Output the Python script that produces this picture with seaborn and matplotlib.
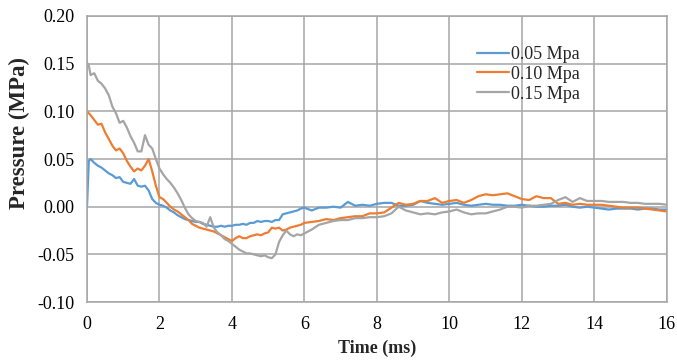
import matplotlib
matplotlib.use("Agg")
import matplotlib.pyplot as plt
import seaborn as sns
import pandas as pd

# --- data ---
TIME = [0, 0.05,
        0.1, 0.2, 0.3, 0.4, 0.5, 0.6, 0.7, 0.8, 0.9, 1.0,
        1.1, 1.2, 1.3, 1.4, 1.5, 1.6, 1.7, 1.8, 1.9, 2.0,
        2.1, 2.2, 2.3, 2.4, 2.5, 2.6, 2.7, 2.8, 2.9, 3.0,
        3.1, 3.2, 3.3, 3.4, 3.5, 3.6, 3.7, 3.8, 3.9, 4.0,
        4.1, 4.2, 4.3, 4.4, 4.5, 4.6, 4.7, 4.8, 4.9, 5.0,
        5.1, 5.2, 5.3, 5.4, 5.5, 5.6, 5.7, 5.8, 5.9, 6.0,
        6.2, 6.4, 6.6, 6.8, 7.0, 7.2, 7.4, 7.6, 7.8, 8.0,
        8.2, 8.4, 8.6, 8.8, 9.0, 9.2, 9.4, 9.6, 9.8, 10.0,
        10.2, 10.4, 10.6, 10.8, 11.0, 11.2, 11.4, 11.6, 11.8, 12.0,
        12.2, 12.4, 12.6, 12.8, 13.0, 13.2, 13.4, 13.6, 13.8, 14.0,
        14.2, 14.4, 14.6, 14.8, 15.0, 15.2, 15.4, 15.6, 15.8, 16.0]

P_005 = [0.000, 0.048,
         0.050, 0.046, 0.043, 0.041, 0.038, 0.035, 0.033, 0.030, 0.031, 0.026,
         0.025, 0.024, 0.029, 0.022, 0.021, 0.022, 0.017, 0.008, 0.004, 0.002,
         0.001, -0.001, -0.004, -0.006, -0.009, -0.011, -0.013, -0.014, -0.015, -0.016,
         -0.016, -0.018, -0.019, -0.020, -0.021, -0.021, -0.020, -0.021, -0.020, -0.020,
         -0.019, -0.019, -0.018, -0.019, -0.017, -0.017, -0.015, -0.016, -0.015, -0.015,
         -0.016, -0.014, -0.014, -0.008, -0.007, -0.006, -0.005, -0.004, -0.002, -0.001,
         -0.004, -0.001, -0.001, 0.000, -0.001, 0.005, 0.001, 0.002, 0.001, 0.003,
         0.004, 0.004, 0.001, 0.001, 0.002, 0.006, 0.004, 0.003, 0.002, 0.003,
         0.004, 0.002, 0.001, 0.002, 0.003, 0.002, 0.002, 0.001, 0.001, 0.002,
         0.001, 0.000, 0.000, 0.001, 0.001, 0.002, 0.000, -0.001, 0.000, -0.001,
         -0.002, -0.003, -0.002, -0.002, -0.002, -0.003, -0.002, -0.002, -0.003, -0.003]

P_010 = [0.100, 0.098,
         0.096, 0.091, 0.086, 0.087, 0.078, 0.071, 0.064, 0.059, 0.061, 0.056,
         0.048, 0.042, 0.037, 0.040, 0.038, 0.043, 0.050, 0.037, 0.022, 0.010,
         0.008, 0.004, 0.000, -0.003, -0.005, -0.008, -0.011, -0.014, -0.018, -0.020,
         -0.022, -0.023, -0.024, -0.025, -0.026, -0.028, -0.030, -0.032, -0.034, -0.036,
         -0.033, -0.031, -0.033, -0.033, -0.031, -0.030, -0.029, -0.030, -0.028, -0.027,
         -0.022, -0.023, -0.022, -0.025, -0.024, -0.022, -0.021, -0.020, -0.019, -0.017,
         -0.016, -0.015, -0.013, -0.014, -0.012, -0.011, -0.010, -0.010, -0.007, -0.007,
         -0.006, -0.001, 0.004, 0.002, 0.003, 0.006, 0.006, 0.009, 0.004, 0.006,
         0.007, 0.004, 0.007, 0.011, 0.013, 0.012, 0.013, 0.014, 0.011, 0.008,
         0.007, 0.011, 0.009, 0.009, 0.003, 0.004, 0.002, 0.003, 0.002, 0.002,
         0.002, 0.001, 0.000, -0.001, -0.001, -0.001, -0.002, -0.003, -0.004, -0.005]

P_015 = [0.151, 0.148,
         0.138, 0.140, 0.132, 0.129, 0.124, 0.117, 0.105, 0.098, 0.088, 0.090,
         0.083, 0.074, 0.067, 0.058, 0.058, 0.075, 0.065, 0.061, 0.050, 0.040,
         0.034, 0.029, 0.025, 0.020, 0.014, 0.007, -0.001, -0.008, -0.012, -0.015,
         -0.016, -0.017, -0.021, -0.011, -0.022, -0.027, -0.030, -0.034, -0.036, -0.039,
         -0.042, -0.045, -0.047, -0.049, -0.049, -0.050, -0.051, -0.052, -0.051, -0.053,
         -0.054, -0.050, -0.037, -0.030, -0.025, -0.029, -0.031, -0.029, -0.030, -0.028,
         -0.024, -0.019, -0.017, -0.015, -0.014, -0.014, -0.012, -0.012, -0.011, -0.011,
         -0.010, -0.007, 0.000, -0.004, -0.006, -0.008, -0.007, -0.008, -0.006, -0.005,
         -0.003, -0.006, -0.008, -0.007, -0.007, -0.005, -0.003, 0.000, 0.000, -0.001,
         0.001, 0.001, 0.002, 0.003, 0.007, 0.010, 0.005, 0.009, 0.006, 0.006,
         0.006, 0.005, 0.005, 0.005, 0.004, 0.004, 0.003, 0.003, 0.003, 0.002]

SERIES = ["0.05 Mpa", "0.10 Mpa", "0.15 Mpa"]
COLORS = ["#5B9BD5", "#ED7D31", "#A5A5A5"]

df = pd.concat([
    pd.DataFrame({"Time": TIME, "Pressure": vals, "Series": name})
    for name, vals in zip(SERIES, [P_005, P_010, P_015])
], ignore_index=True)

sns.set_theme(style="white")
plt.rcParams["font.family"] = ["Liberation Serif", "DejaVu Serif"]

fig = plt.figure(figsize=(6.77, 3.6), dpi=100)
ax = fig.add_axes([0.1285, 0.161, 0.8565, 0.7946])

sns.lineplot(data=df, x="Time", y="Pressure", hue="Series", hue_order=SERIES,
             palette=COLORS, linewidth=1.6, ax=ax, sort=False, estimator=None)

ax.set_xlim(0, 16)
ax.set_ylim(-0.10, 0.20)
ax.set_xticks(range(0, 17, 2))
ax.set_yticks([-0.10, -0.05, 0.00, 0.05, 0.10, 0.15, 0.20])
ax.set_yticklabels([f"{v:.2f}" for v in ax.get_yticks()])
ax.grid(True, color="#A6A6A6", linewidth=1.1)
for s in ax.spines.values():
    s.set_color("#A6A6A6")
    s.set_linewidth(1.1)
ax.tick_params(length=0, labelsize=13, colors="black")
ax.tick_params(axis="x", pad=10)
ax.tick_params(axis="y", pad=9)

ax.set_xlabel("Time (ms)", fontsize=13, fontweight="bold", labelpad=5)
ax.set_ylabel("Pressure (MPa)", fontsize=16.5, fontweight="bold")
ax.yaxis.set_label_coords(-0.098, 0.59)

ax.legend(frameon=False, loc="upper left", bbox_to_anchor=(0.66, 0.92),
          fontsize=13, handlelength=1.8, handletextpad=0.1,
          labelspacing=0.15, borderaxespad=0)

fig.savefig("out.png", dpi=100)
